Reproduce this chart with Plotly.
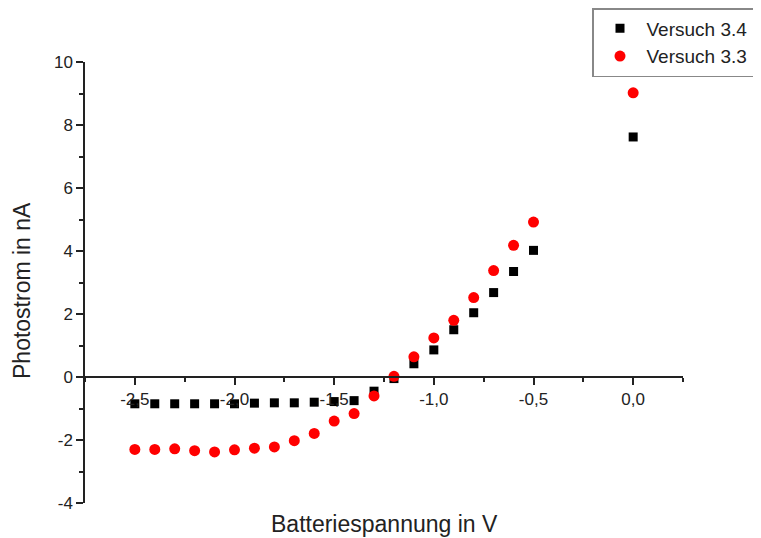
import plotly.graph_objects as go

# Batteriespannung in V
x_34 = [-2.5, -2.4, -2.3, -2.2, -2.1, -2.0, -1.9, -1.8, -1.7, -1.6, -1.5, -1.4, -1.3, -1.2,
        -1.1, -1.0, -0.9, -0.8, -0.7, -0.6, -0.5, 0.0]
y_34 = [-0.85, -0.85, -0.85, -0.85, -0.85, -0.85, -0.83, -0.82, -0.82, -0.80, -0.78, -0.75, -0.45, -0.05,
        0.42, 0.86, 1.50, 2.04, 2.68, 3.35, 4.02, 7.62]
x_33 = [-2.5, -2.4, -2.3, -2.2, -2.1, -2.0, -1.9, -1.8, -1.7, -1.6, -1.5, -1.4, -1.3, -1.2,
        -1.1, -1.0, -0.9, -0.8, -0.7, -0.6, -0.5, 0.0]
y_33 = [-2.30, -2.30, -2.28, -2.34, -2.38, -2.31, -2.26, -2.22, -2.02, -1.79, -1.40, -1.16, -0.60, 0.02,
        0.64, 1.24, 1.80, 2.52, 3.38, 4.18, 4.92, 9.02]

x_ticks = [-2.5, -2.0, -1.5, -1.0, -0.5, 0.0]
x_ticktext = ["-2,5", "-2,0", "-1,5", "-1,0", "-0,5", "0,0"]
y_ticks = [-4, -2, 0, 2, 4, 6, 8, 10]
y_ticktext = ["-4", "-2", "0", "2", "4", "6", "8", "10"]

font_family = "Liberation Sans, Arial, sans-serif"
ink = "#222222"

OFF = 8  # default page body margin
W, H = 761 - OFF, 538 - OFF
ML, MT = 85 - OFF, 62 - OFF
PR, PB = 683 - OFF, 503 - OFF
MR, MB = W - PR, H - PB
PW, PH = W - ML - MR, H - MT - MB


def px_x(p):
    return (p - OFF - ML) / PW


def px_y(p):
    return (MT + PH - (p - OFF)) / PH


fig = go.Figure()
fig.add_trace(go.Scatter(x=x_34, y=y_34, mode="markers", name="Versuch 3.4",
                         marker=dict(symbol="square", size=9, color="black")))
fig.add_trace(go.Scatter(x=x_33, y=y_33, mode="markers", name="Versuch 3.3",
                         marker=dict(symbol="circle", size=11, color="#ff0000")))

fig.update_layout(
    width=W, height=H,
    paper_bgcolor="white", plot_bgcolor="white",
    margin=dict(l=ML, r=MR, t=MT, b=MB, autoexpand=False),
    font=dict(family=font_family, color=ink, size=17),
    showlegend=True,
    legend=dict(x=px_x(592), y=px_y(8), xanchor="left", yanchor="top",
                bordercolor="#888888", borderwidth=1.5, bgcolor="white",
                font=dict(size=19, color=ink), itemwidth=43,
                tracegroupgap=0),
    xaxis=dict(range=[-2.75, 0.25], tickvals=x_ticks, ticktext=x_ticktext,
               showgrid=False, zeroline=False, showline=True, linecolor=ink, linewidth=1.5,
               ticks="outside", ticklen=7, tickwidth=1.5, tickcolor=ink,
               tickfont=dict(size=17),
               minor=dict(dtick=0.25, ticks="outside", ticklen=4, tickwidth=1.5, tickcolor=ink),
               anchor="free", position=4 / 14, automargin=False),
    yaxis=dict(range=[-4, 10], tickvals=y_ticks, ticktext=y_ticktext,
               showgrid=False, zeroline=False, showline=True, linecolor=ink, linewidth=1.5,
               ticks="outside", ticklen=7, tickwidth=1.5, tickcolor=ink,
               tickfont=dict(size=17),
               minor=dict(dtick=1, ticks="outside", ticklen=4, tickwidth=1.5, tickcolor=ink),
               automargin=False),
    annotations=[
        dict(text="Batteriespannung in V", xref="paper", yref="paper",
             x=px_x(384), y=px_y(524), xanchor="center", yanchor="middle",
             showarrow=False, font=dict(size=23, color=ink)),
        dict(text="Photostrom in nA", xref="paper", yref="paper", textangle=-90,
             x=px_x(22), y=px_y(291), xanchor="center", yanchor="middle",
             showarrow=False, font=dict(size=23, color=ink)),
    ],
)

fig.write_html("out.html")
